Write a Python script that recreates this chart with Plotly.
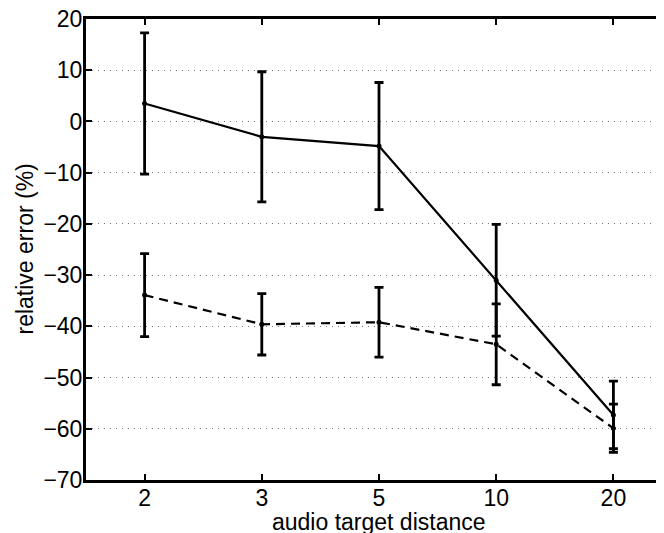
import plotly.graph_objects as go

# Data
distances = ["2", "3", "5", "10", "20"]
solid_mean = [3.5, -3.0, -4.8, -31.0, -57.3]
solid_err = [13.8, 12.7, 12.4, 10.9, 6.6]
dashed_mean = [-33.9, -39.6, -39.2, -43.5, -59.9]
dashed_err = [8.1, 6.0, 6.8, 7.9, 4.7]
y_ticks = [-70, -60, -50, -40, -30, -20, -10, 0, 10, 20]
x_title = "audio target distance"
y_title = "relative error (%)"

FONT = "Liberation Sans, Arial, Helvetica, sans-serif"

fig = go.Figure()

fig.add_trace(go.Scatter(
    x=distances, y=dashed_mean,
    mode="lines+markers",
    line=dict(color="black", width=2.2, dash="9px,6px"),
    marker=dict(color="black", size=5),
    error_y=dict(type="data", array=dashed_err, visible=True,
                 color="black", thickness=2.8, width=4.5),
    showlegend=False,
))

fig.add_trace(go.Scatter(
    x=distances, y=solid_mean,
    mode="lines+markers",
    line=dict(color="black", width=2.2),
    marker=dict(color="black", size=5),
    error_y=dict(type="data", array=solid_err, visible=True,
                 color="black", thickness=2.8, width=4.5),
    showlegend=False,
))

fig.update_layout(
    width=664, height=533,
    margin=dict(l=78, r=0, t=11, b=61),
    paper_bgcolor="white", plot_bgcolor="white",
    font=dict(family=FONT, size=23, color="black"),
    annotations=[
        dict(text=x_title, xref="paper", yref="paper", x=0.5, y=0,
             xanchor="center", yanchor="middle", yshift=-42,
             showarrow=False, font=dict(size=23)),
        dict(text=y_title, xref="paper", yref="paper", x=0, y=0.5,
             xanchor="center", yanchor="middle", xshift=-62, textangle=-90,
             showarrow=False, font=dict(size=23)),
    ],
)

fig.update_xaxes(
    type="category",
    categoryorder="array", categoryarray=distances,
    range=[-0.5, 4.5],
    automargin=False,
    showline=True, linecolor="black", linewidth=3,
    mirror="ticks",
    ticks="inside", ticklen=6, tickwidth=2, tickcolor="black",
    showgrid=False, zeroline=False,
    tickfont=dict(size=23),
    ticklabelstandoff=-5,
    ticklabeloverflow="allow",
)

fig.update_yaxes(
    range=[-70, 20],
    tickvals=y_ticks,
    automargin=False,
    showline=True, linecolor="black", linewidth=3,
    mirror=False,
    ticks="inside", ticklen=6, tickwidth=2, tickcolor="black",
    showgrid=True, gridcolor="#777777", gridwidth=1, griddash="1px,5px",
    zeroline=False,
    tickfont=dict(size=23),
    ticklabelstandoff=-4,
    ticklabeloverflow="allow",
)

fig.write_html("out.html")
